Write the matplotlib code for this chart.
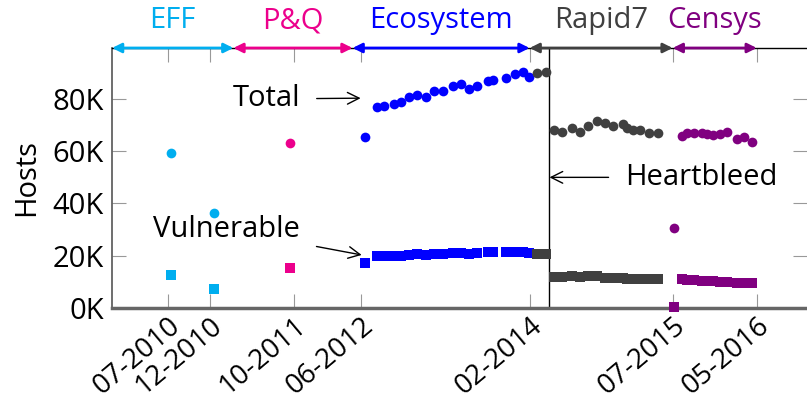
import matplotlib
matplotlib.use("Agg")
import matplotlib.pyplot as plt
import matplotlib.transforms as mtransforms

plt.rcParams['font.family'] = ['Open Sans', 'DejaVu Sans']

# colours of the data sources
c_eff = "#00AEEF"
c_pq = "#EC008C"
c_eco = "#0000FF"
c_r7 = "#404040"
c_cen = "#800080"

# dates as decimal years, values in hosts
eff_t = [2010.53, 2010.96]
eff_total = [59200, 36500]
eff_vuln = [12600, 7300]

pq_t = [2011.71]
pq_total = [63000]
pq_vuln = [15300]

eco_t = [2012.45, 2012.57, 2012.64, 2012.74, 2012.81, 2012.89, 2012.97, 2013.06,
         2013.14, 2013.23, 2013.32, 2013.40, 2013.48, 2013.56, 2013.67, 2013.72,
         2013.85, 2013.94, 2014.02, 2014.08]
eco_total = [65600, 77100, 77300, 78000, 78900, 80600, 81500, 80900,
             83100, 83200, 85100, 85600, 83800, 85000, 87000, 87300,
             87900, 89600, 90200, 88500]
eco_vuln = [17300, 19900, 19900, 20000, 20000, 20400, 20500, 20400,
            20800, 20800, 21000, 21100, 20600, 20900, 21300, 21300,
            21300, 21300, 21300, 20900]

r7_t = [2014.16, 2014.25, 2014.32, 2014.40, 2014.50, 2014.58, 2014.66, 2014.75,
        2014.83, 2014.91, 2015.01, 2015.05, 2015.11, 2015.18, 2015.27, 2015.35]
r7_total = [89900, 90200, 68100, 67500, 68800, 67500, 69700, 71700,
            70900, 69700, 70400, 68800, 68300, 68100, 66900, 67100]
r7_vuln = [20600, 20600, 12000, 12000, 12100, 12000, 12100, 12100,
           11600, 11400, 11400, 11100, 11100, 11100, 11000, 11000]

cen_t = [2015.51, 2015.59, 2015.64, 2015.71, 2015.79, 2015.84, 2015.90, 2015.97,
         2016.04, 2016.14, 2016.21, 2016.29]
cen_total = [30700, 65800, 66900, 67100, 66900, 66500, 66200, 66500,
             67500, 64600, 65600, 63700]
cen_vuln = [300, 11000, 10700, 10700, 10500, 10300, 10200, 10000,
            10000, 9700, 9700, 9400]

tick_pos = [2010.5, 2010.917, 2011.75, 2012.417, 2014.083, 2015.5, 2016.333]
tick_lab = ["07-2010", "12-2010", "10-2011", "06-2012", "02-2014", "07-2015", "05-2016"]
y_ticks = [0, 20000, 40000, 60000, 80000]
y_lab = ["0K", "20K", "40K", "60K", "80K"]

heartbleed = 2014.28

# name, start, end, colour of each source period
periods = [("EFF", 2009.948, 2011.15, c_eff),
           ("P&Q", 2011.15, 2012.33, c_pq),
           ("Ecosystem", 2012.33, 2014.083, c_eco),
           ("Rapid7", 2014.083, 2015.5, c_r7),
           ("Censys", 2015.5, 2016.333, c_cen)]

fs = 21

fig = plt.figure(figsize=(8.07, 4.01), dpi=100)
ax = fig.add_axes([0.1388, 0.2319, 0.8612, 0.6484])

series = [(eff_t, eff_total, eff_vuln, c_eff),
          (pq_t, pq_total, pq_vuln, c_pq),
          (eco_t, eco_total, eco_vuln, c_eco),
          (r7_t, r7_total, r7_vuln, c_r7),
          (cen_t, cen_total, cen_vuln, c_cen)]
for t, tot, vul, col in series:
    ax.plot(t, tot, 'o', color=col, markersize=7, markeredgewidth=0, clip_on=False, zorder=3)
    ax.plot(t, vul, 's', color=col, markersize=7, markeredgewidth=0, clip_on=False, zorder=3)

ax.axvline(heartbleed, color="black", lw=1, zorder=2)

ax.set_xlim(2009.948, 2016.83)
ax.set_ylim(0, 99500)
ax.set_xticks(tick_pos)
ax.set_xticklabels(tick_lab, rotation=40, ha="right", va="top", rotation_mode="anchor", fontsize=20)
ax.set_yticks(y_ticks)
ax.set_yticklabels(y_lab, fontsize=fs)
ax.tick_params(axis="both", direction="in", length=10, color="#999999", top=True, right=True)
ax.tick_params(axis="x", pad=3)
ax.tick_params(axis="y", pad=6)
ax.set_ylabel("Hosts", fontsize=fs, labelpad=8)

ax.spines["top"].set_color("black")
ax.spines["top"].set_linewidth(1)
ax.spines["left"].set_color("#555555")
ax.spines["left"].set_linewidth(1.2)
ax.spines["bottom"].set_color("#666666")
ax.spines["bottom"].set_linewidth(2.5)
ax.spines["right"].set_visible(False)

trans = mtransforms.blended_transform_factory(ax.transData, ax.transAxes)
for name, x0, x1, col in periods:
    ax.annotate("", xy=(x0, 1.0), xytext=(x1, 1.0), xycoords=trans, textcoords=trans,
                arrowprops=dict(arrowstyle="<|-|>", color=col, lw=2,
                                mutation_scale=14, shrinkA=0, shrinkB=0), annotation_clip=False)
    ax.text((x0 + x1) / 2, 1.105, name, transform=trans, color=col, fontsize=fs,
            ha="center", va="center")

ax.annotate("Total", xy=(2012.41, 80300), xytext=(2011.81, 80000), fontsize=fs,
            ha="right", va="center",
            arrowprops=dict(arrowstyle="->", color="black", lw=1, shrinkA=10, shrinkB=0))
ax.annotate("Vulnerable", xy=(2012.42, 20300), xytext=(2011.81, 30000), fontsize=fs,
            ha="right", va="center",
            arrowprops=dict(arrowstyle="->", color="black", lw=1, shrinkA=10, shrinkB=0))
ax.annotate("Heartbleed", xy=(heartbleed, 50000), xytext=(2015.03, 50000), fontsize=fs,
            ha="left", va="center",
            arrowprops=dict(arrowstyle="->", color="black", lw=1, shrinkA=10, shrinkB=0))

fig.savefig("out.png", dpi=100)
